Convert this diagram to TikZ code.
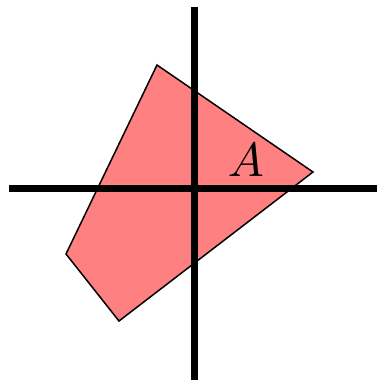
\documentclass[tikz,border=0pt]{standalone}
\begin{document}
\begin{tikzpicture}[x=1pt, y=1pt]
                \useasboundingbox (-195,-192) rectangle (182,188);
                \draw[fill=red!50, line width=1.5pt, line join=miter] (-38,123) -- (118,16) -- (-76,-133) -- (-129,-66) -- cycle;
                \node[scale=4.8] (lblA) at (51,28) {$A$};
                \draw[line width=7pt] (-186,0) -- (182,0);
                \draw[line width=7pt] (0,181) -- (0,-192);
            \end{tikzpicture}
\end{document}
